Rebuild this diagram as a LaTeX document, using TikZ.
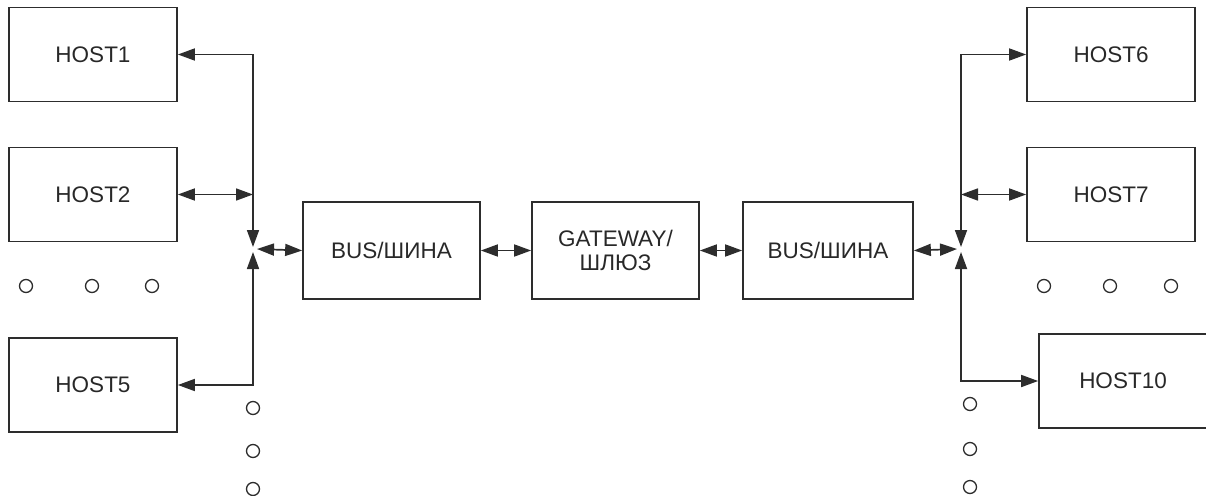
\documentclass[tikz,border=0pt]{standalone}
\usepackage{fontspec}
\setmainfont{Liberation Sans}
\usetikzlibrary{arrows.meta}
\definecolor{ln}{RGB}{45,45,45}
\definecolor{tx}{RGB}{40,40,40}
\begin{document}
\begin{tikzpicture}[x=1pt,y=-1pt,
  boxbase/.style={draw=ln,line width=1.7pt,inner sep=0pt,text=tx,
    font=\fontsize{22.5}{25}\selectfont,align=center},
  host/.style={boxbase,minimum width=168pt,minimum height=94pt},
  bus/.style={boxbase,minimum width=#1,minimum height=97pt},
  conn/.style={draw=ln,line width=1.7pt,
    {Triangle[length=17pt,width=12pt]}-{Triangle[length=17pt,width=12pt]}},
  dotc/.style={draw=ln,line width=1.3pt,circle,minimum size=13pt,inner sep=0pt}]
\useasboundingbox (0,0) rectangle (1206,495);
\clip (0,0) rectangle (1206,495);
% hosts left
\node[host] (h1) at (93,54.5) {HOST1};
\node[host] (h2) at (93,194.5) {HOST2};
\node[host] (h5) at (93,385) {HOST5};
% centre
\node[bus=177pt] (b1) at (391.5,250.5) {BUS/ШИНА};
\node[bus=167pt] (gw) at (615.5,250.5) {GATEWAY/\\[-1pt]ШЛЮЗ};
\node[bus=170pt] (b2) at (828,250.5) {BUS/ШИНА};
% hosts right
\node[host] (h6) at (1111,54.5) {HOST6};
\node[host] (h7) at (1111,194.5) {HOST7};
\node[host] (h10) at (1123,381) {HOST10};
% junctions
\coordinate (jlt) at (253,247);
\coordinate (jlb) at (253,252);
\coordinate (jlr) at (257,249);
\coordinate (jrt) at (961,247);
\coordinate (jrb) at (961,252);
\coordinate (jrl) at (957,249);
% left connectors
\draw[conn] (h1.east) -| (jlt);
\draw[conn] (h2.east) -- (h2.east -| jlt);
\draw[conn] (h5.east) -| (jlb);
\draw[conn] (jlr) -- (b1.west);
\draw[conn] (b1.east) -- (gw.west);
\draw[conn] (gw.east) -- (b2.west);
% right connectors
\draw[conn] (b2.east) -- (jrl);
\draw[conn] (jrt) |- (h6.west);
\draw[conn] (h7.west -| jrt) -- (h7.west);
\draw[conn] (jrb) |- (h10.west);
% ellipsis circles
\node[dotc] (dl1) at (26,286) {};
\node[dotc] (dl2) at (92,286) {};
\node[dotc] (dl3) at (152,286) {};
\node[dotc] (dv1) at (253,408) {};
\node[dotc] (dv2) at (253,451) {};
\node[dotc] (dv3) at (253,489) {};
\node[dotc] (dr1) at (1044,286) {};
\node[dotc] (dr2) at (1110,286) {};
\node[dotc] (dr3) at (1171,286) {};
\node[dotc] (dw1) at (970,404) {};
\node[dotc] (dw2) at (970,449) {};
\node[dotc] (dw3) at (970,487) {};
\end{tikzpicture}
\end{document}
